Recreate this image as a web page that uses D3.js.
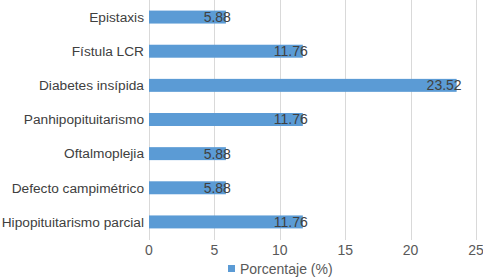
<!DOCTYPE html>
<html><head><meta charset="utf-8">
<script src="https://cdn.jsdelivr.net/npm/d3@7"></script>
<style>body{margin:0;background:#fff}svg{display:block;font-family:"Liberation Sans",Arial,sans-serif}</style>
</head><body><svg id="c" width="483" height="280"></svg>
<script>
const categories = ["Epistaxis","Fístula LCR","Diabetes insípida","Panhipopituitarismo","Oftalmoplejia","Defecto campimétrico","Hipopituitarismo parcial"];
const values = [5.88,11.76,23.52,11.76,5.88,5.88,11.76];
const xTicks = [0,5,10,15,20,25];
const seriesName = "Porcentaje (%)";

(function(){
const svg = d3.select("#c");
const mL = 149, mR = 476, mT = 0, mB = 239;
const fs = 14;
const x = d3.scaleLinear().domain([0,25]).range([mL,mR]);
const y = d3.scaleBand().domain(categories).range([mT,mB]).paddingInner(0.62).paddingOuter(0.31);

svg.append("g").selectAll("line").data(xTicks).join("line")
  .attr("x1",d=>Math.round(x(d))+0.5).attr("x2",d=>Math.round(x(d))+0.5).attr("y1",mT).attr("y2",mB+1)
  .attr("stroke","#d9d9d9").attr("stroke-width",1);

svg.append("g").selectAll("rect").data(values).join("rect")
  .attr("x",x(0)).attr("y",(d,i)=>y(categories[i]))
  .attr("width",d=>x(d)-x(0)).attr("height",y.bandwidth())
  .attr("fill","#5b9bd5");

svg.append("g").selectAll("text").data(values).join("text")
  .attr("x",d=>x(d)+5).attr("y",(d,i)=>y(categories[i])+y.bandwidth()/2)
  .attr("dy","0.35em").attr("text-anchor","end")
  .attr("font-size",fs).attr("fill","#404040")
  .text(d=>d.toFixed(2));

svg.append("g").selectAll("text").data(categories).join("text")
  .attr("x",mL-5).attr("y",d=>y(d)+y.bandwidth()/2)
  .attr("dy","0.35em").attr("text-anchor","end")
  .attr("font-size",13.7).attr("fill","#404040").text(d=>d);

svg.append("g").selectAll("text").data(xTicks).join("text")
  .attr("x",d=>x(d)).attr("y",250).attr("dy","0.35em").attr("text-anchor","middle")
  .attr("font-size",fs).attr("fill","#595959").text(d=>d);

const lg = svg.append("g");
lg.append("rect").attr("x",228).attr("y",265).attr("width",7).attr("height",7).attr("fill","#5b9bd5");
lg.append("text").attr("x",240).attr("y",269).attr("dy","0.35em").attr("font-size",fs).attr("fill","#595959").text(seriesName);
})();
</script></body></html>
